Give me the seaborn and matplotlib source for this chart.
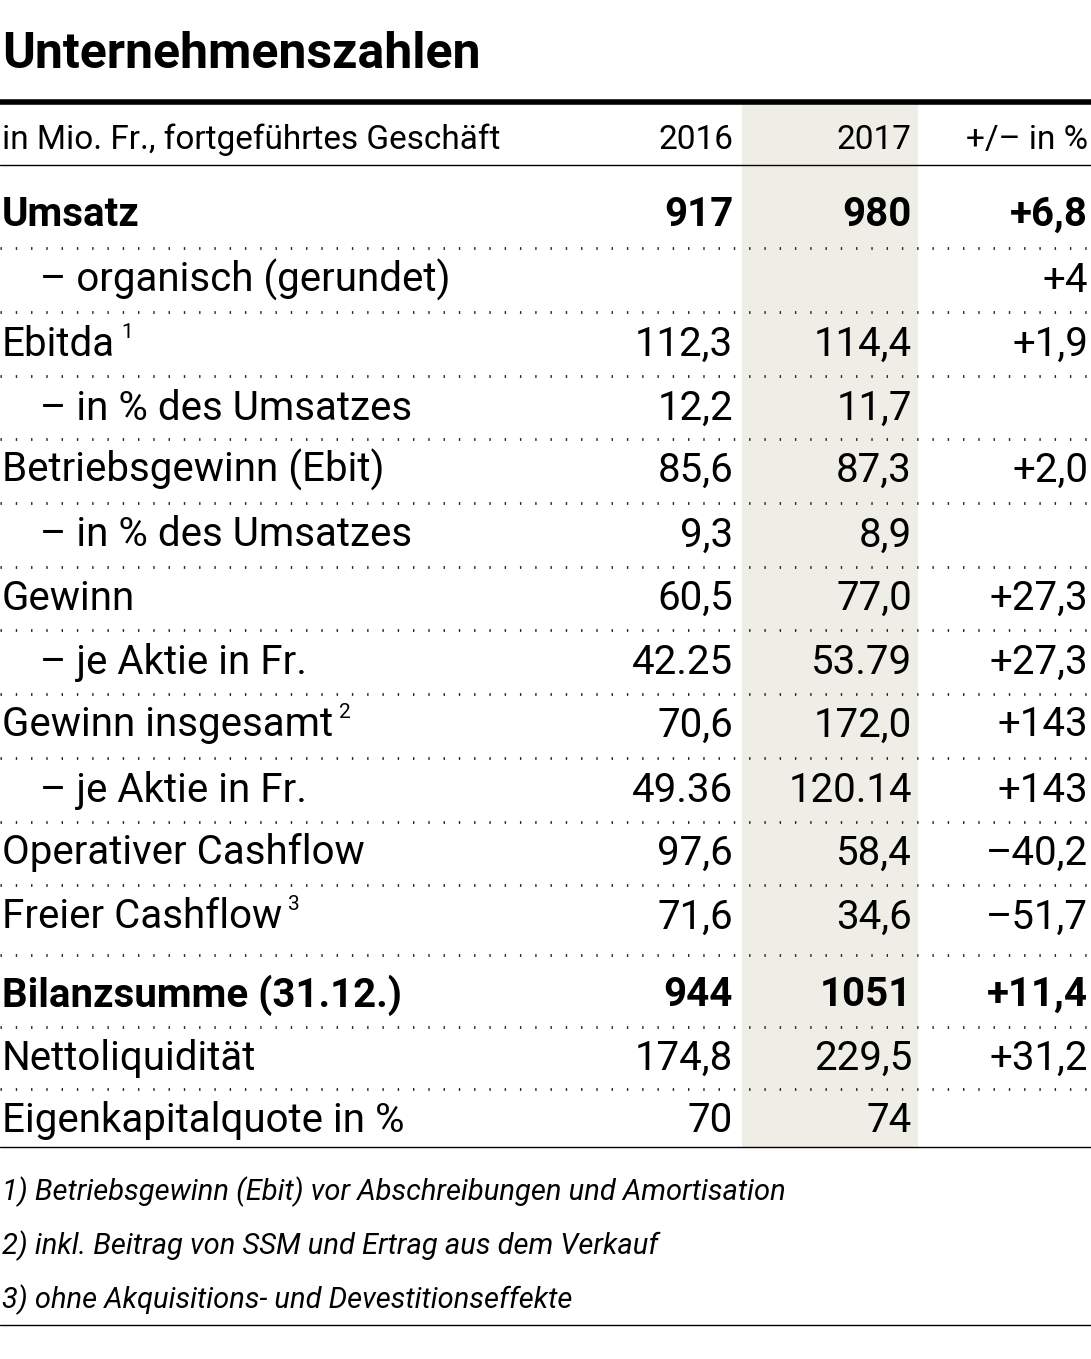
import matplotlib
matplotlib.use('Agg')
import matplotlib.pyplot as plt
import seaborn as sns

# table content
labels = ["Umsatz", "– organisch (gerundet)", "Ebitda", "– in % des Umsatzes",
          "Betriebsgewinn (Ebit)", "– in % des Umsatzes", "Gewinn", "– je Aktie in Fr.",
          "Gewinn insgesamt", "– je Aktie in Fr.", "Operativer Cashflow", "Freier Cashflow",
          "Bilanzsumme (31.12.)", "Nettoliquidität", "Eigenkapitalquote in %"]
superscripts = ["", "", "1", "", "", "", "", "", "2", "", "", "3", "", "", ""]
vals_2016 = ["917", "", "112,3", "12,2", "85,6", "9,3", "60,5", "42.25", "70,6", "49.36",
             "97,6", "71,6", "944", "174,8", "70"]
vals_2017 = ["980", "", "114,4", "11,7", "87,3", "8,9", "77,0", "53.79", "172,0", "120.14",
             "58,4", "34,6", "1051", "229,5", "74"]
vals_pct = ["+6,8", "+4", "+1,9", "", "+2,0", "", "+27,3", "+27,3", "+143", "+143",
            "–40,2", "–51,7", "+11,4", "+31,2", ""]
bold_rows = [0, 12]
header = ["in Mio. Fr., fortgeführtes Geschäft", "2016", "2017", "+/– in %"]
footnotes = ["1) Betriebsgewinn (Ebit) vor Abschreibungen und Amortisation",
             "2) inkl. Beitrag von SSM und Ertrag aus dem Verkauf",
             "3) ohne Akquisitions- und Devestitionseffekte"]

sns.set_theme(style="white")
plt.rcParams["font.family"] = ["Roboto", "DejaVu Sans"]
plt.rcParams["text.color"] = "black"
fig = plt.figure(figsize=(10.91, 13.59), dpi=100)
ax = fig.add_axes([0, 0, 1, 1])
ax.set_xlim(0, 1091)
ax.set_ylim(1359, 0)
ax.axis("off")

FS = 29
x_lab, x16, x17, xp = 2, 733, 912, 1088

ax.text(x_lab, 55, "Unternehmenszahlen", fontsize=36, fontweight="bold", va="center")
ax.plot([0, 1091], [102, 102], color="black", lw=4)
ax.axvspan(742, 918, ymin=1 - 1147 / 1359, ymax=1 - 104 / 1359, color="#eeede6", lw=0, zorder=0)

ax.text(x_lab, 140, header[0], fontsize=24, va="center")
for x, h in zip([x16, x17, xp], header[1:]):
    ax.text(x, 140, h, fontsize=24, va="center", ha="right")
ax.plot([0, 1091], [165, 165], color="black", lw=1)

ys = [215, 280, 344, 408, 470, 535, 598, 662, 725, 790, 853, 917, 995, 1058, 1120]
for i, lab in enumerate(labels):
    y = ys[i]
    w = "bold" if i in bold_rows else "normal"
    indent = 38 if lab.startswith("–") else 0
    t = ax.text(x_lab + indent, y, lab, fontsize=FS, fontweight=w, va="center")
    if superscripts[i]:
        fig.canvas.draw()
        bb = t.get_window_extent()
        ax.text(bb.x1 + 6, y - 12, superscripts[i], fontsize=15, va="center")
    for x, v in zip([x16, x17, xp], [vals_2016[i], vals_2017[i], vals_pct[i]]):
        ax.text(x, y, v, fontsize=FS, fontweight=w, va="center", ha="right")
    if i < len(labels) - 1:
        ym = (ys[i] + ys[i + 1]) / 2
        if i == 11:
            ym = 955
        ax.plot([0, 1091], [ym, ym], color="#222222", lw=2, ls=(0, (0.5, 5)))

ax.plot([0, 1091], [1147, 1147], color="black", lw=1)
for j, f in enumerate(footnotes):
    ax.text(x_lab, 1192 + 54 * j, f, fontsize=21, style="italic", va="center")
ax.plot([0, 1091], [1325, 1325], color="black", lw=1)

fig.savefig("out.png", dpi=100)
